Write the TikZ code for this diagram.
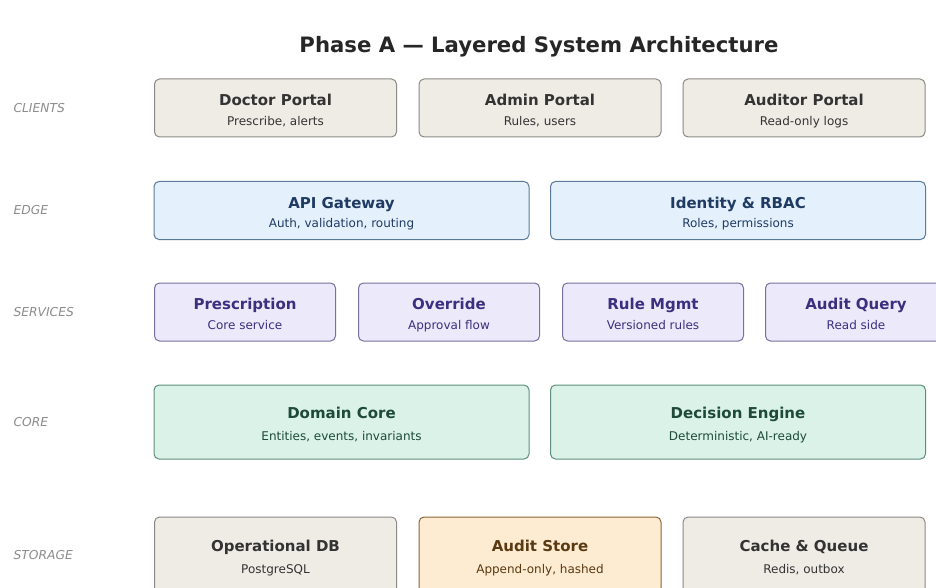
\documentclass[tikz,border=0pt]{standalone}
\usepackage{fontspec}
\setmainfont{DejaVu Sans}
\usepackage{tikz}
\usepackage{xcolor}

% layer colours
\definecolor{clientfill}{HTML}{EFECE6}
\definecolor{clientline}{HTML}{8C8A84}
\definecolor{edgefill}{HTML}{E4F0FB}
\definecolor{edgeline}{HTML}{5B7A99}
\definecolor{edgetext}{HTML}{1F3B63}
\definecolor{svcfill}{HTML}{ECE9FA}
\definecolor{svcline}{HTML}{77719F}
\definecolor{svctext}{HTML}{3B2F80}
\definecolor{corefill}{HTML}{DAF2E7}
\definecolor{coreline}{HTML}{5E8F7E}
\definecolor{coretext}{HTML}{1D4A3A}
\definecolor{auditfill}{HTML}{FDEBD2}
\definecolor{auditline}{HTML}{8A6536}
\definecolor{audittext}{HTML}{5A3A12}

% two lines per box, same height whatever the letters
\newcommand{\boxtitle}[1]{{\fontsize{15}{18}\selectfont\bfseries\rule{0pt}{17pt}#1}}
\newcommand{\boxsub}[1]{{\fontsize{12}{14}\selectfont\vphantom{Ag}#1}}

\tikzset{
  box/.style={draw, rounded corners=5pt, line width=1pt, align=center,
              inner sep=0pt, minimum height=58pt, text=black!80,
              font=\fontsize{12}{19.5}\selectfont},
  client/.style={box, fill=clientfill, draw=clientline, minimum width=242pt},
  gate/.style={box, fill=edgefill, draw=edgeline, text=edgetext, minimum width=375pt},
  service/.style={box, fill=svcfill, draw=svcline, text=svctext, minimum width=181pt},
  core/.style={box, fill=corefill, draw=coreline, text=coretext, minimum width=375pt,
               minimum height=74pt, font=\fontsize{12}{21.5}\selectfont},
  store/.style={client, minimum height=76pt, font=\fontsize{12}{22}\selectfont},
  layer/.style={anchor=west, text=black!45, font=\fontsize{12.3}{14}\selectfont\itshape}
}

\begin{document}
\begin{tikzpicture}[x=1pt,y=-1pt]
    \useasboundingbox (0,0) rectangle (936,588);
    \fill[white] (0,0) rectangle (936,588);
    \clip (0,0) rectangle (936,588);

    % heading
    \node (head) at (539,46.5) {\fontsize{21.2}{24}\selectfont\bfseries\color{black!85}Phase A --- Layered System Architecture};

    % layer names down the left side
    \node[layer] (lclients) at (10,108) {CLIENTS};
    \node[layer] (ledge) at (10,210) {EDGE};
    \node[layer] (lservices) at (10,312) {SERVICES};
    \node[layer] (lcore) at (10,422) {CORE};
    \node[layer] (lstorage) at (10,555) {STORAGE};

    % clients
    \node[client] (doctor) at (275.5,108) {\boxtitle{Doctor Portal}\\\boxsub{Prescribe, alerts}};
    \node[client] (admin) at (540,108) {\boxtitle{Admin Portal}\\\boxsub{Rules, users}};
    \node[client] (auditor) at (804,108) {\boxtitle{Auditor Portal}\\\boxsub{Read-only logs}};

    % edge
    \node[gate] (gateway) at (341.5,210.5) {\boxtitle{API Gateway}\\\boxsub{Auth, validation, routing}};
    \node[gate] (identity) at (738,210.5) {\boxtitle{Identity \& RBAC}\\\boxsub{Roles, permissions}};

    % services
    \node[service] (prescription) at (245,312) {\boxtitle{Prescription}\\\boxsub{Core service}};
    \node[service] (override) at (449,312) {\boxtitle{Override}\\\boxsub{Approval flow}};
    \node[service] (rulemgmt) at (653,312) {\boxtitle{Rule Mgmt}\\\boxsub{Versioned rules}};
    \node[service] (auditquery) at (856,312) {\boxtitle{Audit Query}\\\boxsub{Read side}};

    % core
    \node[core] (domain) at (341.5,422) {\boxtitle{Domain Core}\\\boxsub{Entities, events, invariants}};
    \node[core] (decision) at (738,422) {\boxtitle{Decision Engine}\\\boxsub{Deterministic, AI-ready}};

    % storage
    \node[store] (opdb) at (275.5,555) {\boxtitle{Operational DB}\\\boxsub{PostgreSQL}};
    \node[store, fill=auditfill, draw=auditline, text=audittext] (auditstore) at (540,555) {\boxtitle{Audit Store}\\\boxsub{Append-only, hashed}};
    \node[store] (cache) at (804,555) {\boxtitle{Cache \& Queue}\\\boxsub{Redis, outbox}};
\end{tikzpicture}
\end{document}
